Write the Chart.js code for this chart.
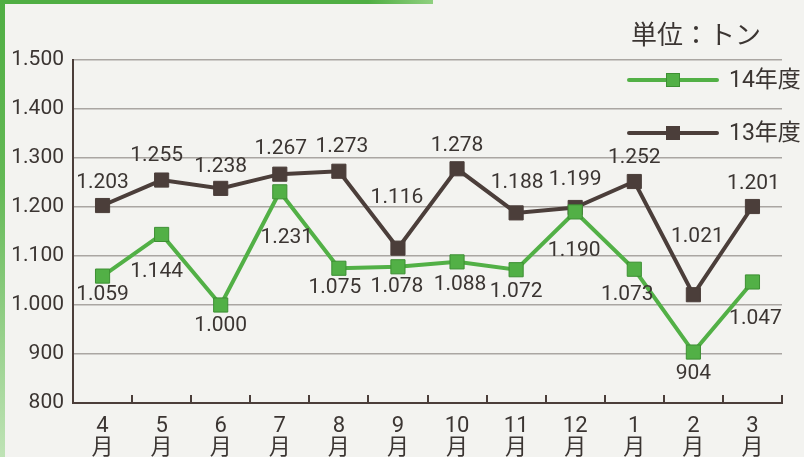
<!DOCTYPE html>
<html lang="ja">
<head>
<meta charset="utf-8">
<script src="https://cdn.jsdelivr.net/npm/chart.js@4"></script>
<style>
  html, body { margin: 0; padding: 0; }
  body {
    width: 804px; height: 457px; overflow: hidden;
    background: #f3f3f0;
    position: relative;
  }
  #frame-top {
    position: absolute; left: 0; top: 0; width: 433px; height: 4px;
    background: linear-gradient(to right, #4fae43 85%, #8fd07f);
  }
  #frame-left {
    position: absolute; left: 0; top: 0; width: 5px; height: 457px;
    background: linear-gradient(to bottom, #4fae43 0%, #63b955 40%, #bfe3b6 100%);
  }
  #wrap { position: absolute; left: 0; top: 0; width: 804px; height: 457px; }
</style>
</head>
<body>
<div id="frame-top"></div>
<div id="frame-left"></div>
<div id="wrap"><canvas id="chart" width="804" height="457"></canvas></div>
<script>
// 月
const months = ["4", "5", "6", "7", "8", "9", "10", "11", "12", "1", "2", "3"];
// 単位：トン
const fy14 = [1059, 1144, 1000, 1231, 1075, 1078, 1088, 1072, 1190, 1073, 904, 1047];
const fy13 = [1203, 1255, 1238, 1267, 1273, 1116, 1278, 1188, 1199, 1252, 1021, 1201];
const yTicks = [800, 900, 1000, 1100, 1200, 1300, 1400, 1500];

// ラベルのずれ (px)
const offs14 = [[0, 19], [-5, 37], [0, 21], [7, 46], [-4, 19], [-1, 20], [3, 23], [0, 22], [-1, 39], [-7, 26], [0, 22], [3, 37]];
const offs13 = [[0, -23], [-5, -24], [0, -22], [1, -25], [3, -24], [-1, -50], [0, -23], [1, -30], [0, -28], [0, -24], [4, -58], [1, -23]];

const GREEN = "#52b046";
const DARK = "#4b3e3a";
const TEXT = "#3b3532";
const FONT = "Roboto, 'Noto Sans CJK JP', sans-serif";

function fmt(v) {
    return v >= 1000 ? Math.floor(v / 1000) + "." + String(v % 1000).padStart(3, "0") : String(v);
}

const extras = {
    id: "extras",
    afterDraw(chart) {
        const ctx = chart.ctx;
        const area = chart.chartArea;

        // x軸の目盛り（内向き）
        ctx.save();
        ctx.strokeStyle = DARK;
        ctx.lineWidth = 2;
        const step = (area.right - area.left) / months.length;
        for (let i = 1; i <= months.length; i++) {
            const px = Math.round(area.left + step * i);
            ctx.beginPath();
            ctx.moveTo(px, area.bottom);
            ctx.lineTo(px, area.bottom - 8);
            ctx.stroke();
        }
        ctx.restore();

        // 数値ラベル
        ctx.save();
        ctx.font = "21px " + FONT;
        ctx.fillStyle = TEXT;
        ctx.textAlign = "center";
        ctx.textBaseline = "middle";
        const drawLabels = (idx, offs) => {
            const meta = chart.getDatasetMeta(idx);
            meta.data.forEach((pt, i) => {
                const v = chart.data.datasets[idx].data[i];
                ctx.fillText(fmt(v), pt.x + offs[i][0], pt.y + offs[i][1]);
            });
        };
        drawLabels(0, offs14);
        drawLabels(1, offs13);
        ctx.restore();

        // 凡例
        ctx.save();
        const items = [
            { label: chart.data.datasets[0].label, color: GREEN, border: "#3d8f33", y: 80 },
            { label: chart.data.datasets[1].label, color: DARK, border: DARK, y: 133 }
        ];
        items.forEach((it) => {
            ctx.strokeStyle = it.color;
            ctx.lineWidth = 4;
            ctx.lineCap = "round";
            ctx.beginPath();
            ctx.moveTo(629, it.y);
            ctx.lineTo(717, it.y);
            ctx.stroke();
            ctx.fillStyle = it.color;
            ctx.fillRect(666, it.y - 7, 14, 14);
            ctx.lineWidth = 1;
            ctx.strokeStyle = it.border;
            ctx.strokeRect(666.5, it.y - 6.5, 13, 13);
            ctx.fillStyle = TEXT;
            ctx.font = "23px " + FONT;
            ctx.textAlign = "left";
            ctx.textBaseline = "middle";
            ctx.fillText(it.label, 729, it.y + 1);
        });
        ctx.font = "26px 'Noto Sans CJK JP', sans-serif";
        ctx.textAlign = "left";
        ctx.textBaseline = "middle";
        ctx.fillText("単位：トン", 631, 34);
        ctx.restore();
    }
};

new Chart(document.getElementById("chart"), {
    type: "line",
    data: {
        labels: months.map((m) => [m, "月"]),
        datasets: [
            {
                label: "14年度",
                data: fy14,
                borderColor: GREEN,
                backgroundColor: GREEN,
                pointBorderColor: "#3d8f33",
                borderWidth: 4,
                pointStyle: "rect",
                pointRadius: 10,
                pointBorderWidth: 1,
                tension: 0
            },
            {
                label: "13年度",
                data: fy13,
                borderColor: DARK,
                backgroundColor: DARK,
                pointBorderColor: DARK,
                borderWidth: 4,
                pointStyle: "rect",
                pointRadius: 10,
                pointBorderWidth: 1,
                tension: 0
            }
        ]
    },
    options: {
        responsive: false,
        animation: false,
        layout: { padding: { left: 0, right: 22, top: 60, bottom: 0 } },
        plugins: {
            legend: { display: false },
            tooltip: { enabled: false }
        },
        scales: {
            x: {
                offset: true,
                grid: { display: false, drawTicks: false },
                border: { display: true, color: DARK, width: 2 },
                ticks: {
                    color: TEXT,
                    font: { family: FONT, size: 22, lineHeight: 0.98 },
                    padding: 13,
                    maxRotation: 0,
                    autoSkip: false
                },
                afterFit: (s) => { s.height = 54; }
            },
            y: {
                min: 800,
                max: 1500,
                afterBuildTicks: (s) => { s.ticks = yTicks.map((v) => ({ value: v })); },
                grid: { color: "#aaa6a2", lineWidth: 1.5, drawTicks: false },
                border: { display: true, color: DARK, width: 2 },
                ticks: {
                    color: TEXT,
                    font: { family: FONT, size: 21 },
                    padding: 9,
                    callback: (v) => fmt(v)
                },
                afterFit: (s) => { s.width = 73; }
            }
        }
    },
    plugins: [extras]
});
</script>
</body>
</html>
